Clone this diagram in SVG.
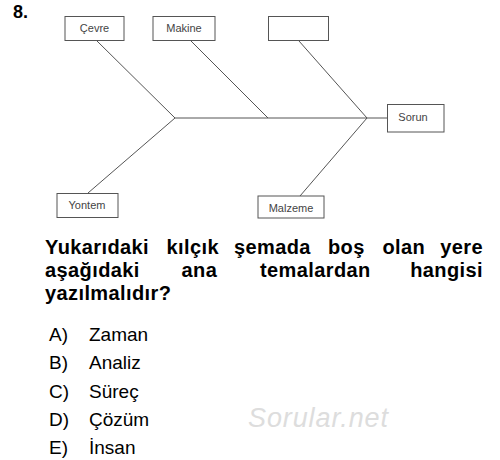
<svg xmlns="http://www.w3.org/2000/svg" width="500" height="460" viewBox="0 0 500 460">
<style>
.box{fill:#fff;stroke:#555;stroke-width:1}
.lbl{font-family:"Liberation Sans",Arial,sans-serif;font-size:11px;fill:#444;text-anchor:middle}
.con line{stroke:#555;stroke-width:1}
.q{font-family:"Liberation Sans",Arial,sans-serif;font-size:20px;font-weight:bold;fill:#000;letter-spacing:0.4px}
.opt{font-family:"Liberation Sans",Arial,sans-serif;font-size:19px;fill:#000}
</style>
<rect width="500" height="460" fill="#fff"/>
<text x="13" y="18" font-family="'Liberation Sans',Arial,sans-serif" font-weight="bold" font-size="18">8.</text>
<g id="connectors" class="con">
<line x1="175" y1="118" x2="388" y2="118"/>
<line x1="97" y1="41" x2="175" y2="118"/>
<line x1="88" y1="193" x2="175" y2="118"/>
<line x1="191" y1="41" x2="268" y2="118"/>
<line x1="299" y1="41" x2="367" y2="118"/>
<line x1="300" y1="196" x2="367" y2="118"/>
</g>
<g id="cevre"><rect class="box" x="65" y="16.5" width="59" height="24"/><text class="lbl" x="94.5" y="32">Çevre</text></g>
<g id="makine"><rect class="box" x="153" y="16.5" width="62" height="24"/><text class="lbl" x="184" y="32">Makine</text></g>
<g id="empty"><rect class="box" x="268.5" y="16.5" width="60" height="24"/></g>
<g id="sorun"><rect class="box" x="387.5" y="104.5" width="56.5" height="27.5"/><text class="lbl" x="413" y="121">Sorun</text></g>
<g id="yontem"><rect class="box" x="57" y="193.5" width="61" height="24"/><text class="lbl" x="87" y="209">Yontem</text></g>
<g id="malzeme"><rect class="box" x="258" y="196" width="66" height="22"/><text class="lbl" x="291" y="212">Malzeme</text></g>
<g class="q">
<text x="45" y="254">Yukarıdaki</text>
<text x="166.5" y="254">kılçık</text>
<text x="234" y="254">şemada</text>
<text x="328" y="254">boş</text>
<text x="382.5" y="254">olan</text>
<text x="483" y="254" text-anchor="end">yere</text>
<text x="45" y="277">aşağıdaki</text>
<text x="181.5" y="277">ana</text>
<text x="260" y="277">temalardan</text>
<text x="483" y="277" text-anchor="end">hangisi</text>
<text x="45" y="300">yazılmalıdır?</text>
</g>
<text x="248" y="427" font-family="'Liberation Sans',Arial,sans-serif" font-size="27" font-style="italic" fill="#ddd" textLength="140">Sorular.net</text>
<g class="opt">
<text x="49" y="341">A)</text><text x="89" y="341">Zaman</text>
<text x="49" y="369">B)</text><text x="89" y="369">Analiz</text>
<text x="49" y="397.5">C)</text><text x="89" y="397.5">Süreç</text>
<text x="49" y="426">D)</text><text x="89" y="426">Çözüm</text>
<text x="49" y="454">E)</text><text x="89" y="454">İnsan</text>
</g>
</svg>
